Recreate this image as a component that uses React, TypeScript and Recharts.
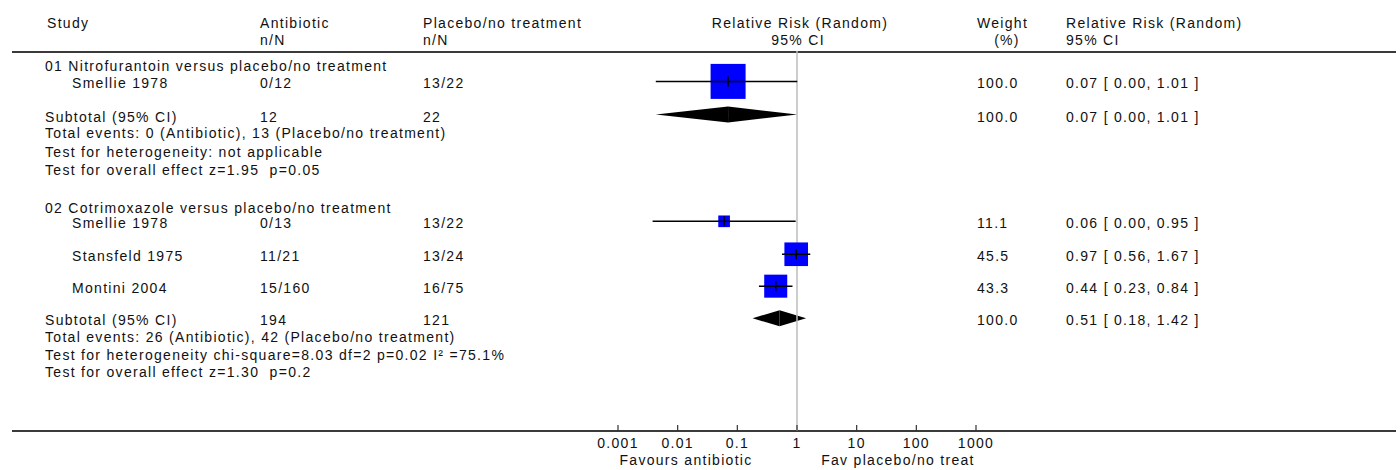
import React from 'react';
import {
  ScatterChart,
  Scatter,
  XAxis,
  YAxis,
  ReferenceLine,
  ReferenceArea,
  Customized,
} from 'recharts';

const FONT = '"Liberation Sans", Arial, sans-serif';
const INK = '#111';

// x axis (relative risk, log scale)
const xTicks = [0.001, 0.01, 0.1, 1, 10, 100, 1000];
const favourLabels = ['Favours antibiotic', 'Fav placebo/no treat'];

// comparisons
const groupTitles = [
  '01 Nitrofurantoin versus placebo/no treatment',
  '02 Cotrimoxazole versus placebo/no treatment',
];
const groupTitleLines = [0.74, 9.15];

// trials
const studyNames = ['Smellie 1978', 'Smellie 1978', 'Stansfeld 1975', 'Montini 2004'];
const studyAntibiotic = ['0/12', '0/13', '11/21', '15/160'];
const studyPlacebo = ['13/22', '13/22', '13/24', '16/75'];
const studyWeights = [100.0, 11.1, 45.5, 43.3];
const studyRR = [0.07, 0.06, 0.97, 0.44];
const studyLow = [0.0043, 0.0038, 0.56, 0.23];
const studyHigh = [1.01, 0.95, 1.67, 0.84];
const studyLines = [1.79, 10.03, 11.97, 13.85];

// subtotals
const subtotalAntibioticN = [12, 194];
const subtotalPlaceboN = [22, 121];
const subtotalRR = [0.07, 0.51];
const subtotalLow = [0.0043, 0.18];
const subtotalHigh = [1.01, 1.42];
const subtotalLines = [3.74, 15.74];

const eventsAntibiotic = [0, 26];
const eventsPlacebo = [13, 42];
const heterogeneity = [
  'Test for heterogeneity: not applicable',
  'Test for heterogeneity chi-square=8.03 df=2 p=0.02 I\u00b2 =75.1%',
];
const overallEffect = ['Test for overall effect z=1.95  p=0.05', 'Test for overall effect z=1.30  p=0.2'];
const footLines = [
  [4.74, 5.82, 6.91],
  [16.71, 17.76, 18.79],
];

// column x positions
const COL = { left: 45, study: 72, anti: 260, plac: 423, weight: 977, rr: 1066 };

const ciText = (rr: number, lo: number, hi: number) =>
  `${rr.toFixed(2)} [ ${lo.toFixed(2)}, ${hi.toFixed(2)} ]`;

type Cell = { x: number; text: string };
type TextRow = { line: number; cells: Cell[] };

const textRows: TextRow[] = [];
groupTitles.forEach((t, g) => {
  textRows.push({ line: groupTitleLines[g], cells: [{ x: COL.left, text: t }] });
  textRows.push({
    line: subtotalLines[g],
    cells: [
      { x: COL.left, text: 'Subtotal (95% CI)' },
      { x: COL.anti, text: String(subtotalAntibioticN[g]) },
      { x: COL.plac, text: String(subtotalPlaceboN[g]) },
      { x: COL.weight, text: '100.0' },
      { x: COL.rr, text: ciText(subtotalRR[g], subtotalLow[g], subtotalHigh[g]) },
    ],
  });
  const foot = [
    `Total events: ${eventsAntibiotic[g]} (Antibiotic), ${eventsPlacebo[g]} (Placebo/no treatment)`,
    heterogeneity[g],
    overallEffect[g],
  ];
  foot.forEach((f, k) => textRows.push({ line: footLines[g][k], cells: [{ x: COL.left, text: f }] }));
});
studyNames.forEach((name, i) => {
  textRows.push({
    line: studyLines[i],
    cells: [
      { x: COL.study, text: name },
      { x: COL.anti, text: studyAntibiotic[i] },
      { x: COL.plac, text: studyPlacebo[i] },
      { x: COL.weight, text: studyWeights[i].toFixed(1) },
      { x: COL.rr, text: ciText(studyRR[i], studyLow[i], studyHigh[i]) },
    ],
  });
});

const studyPoints = studyNames.map((name, i) => ({
  name,
  rr: studyRR[i],
  line: studyLines[i],
  weight: studyWeights[i],
}));

const textStyle: React.CSSProperties = { whiteSpace: 'pre', letterSpacing: 1.3 };

const Txt = ({ x, y, anchor = 'start', children }: any) => (
  <text x={x} y={y} textAnchor={anchor} fontFamily={FONT} fontSize={14} fill={INK} style={textStyle}>
    {children}
  </text>
);

const RowTick = (props: any) => {
  const { y, payload } = props;
  const row = textRows.find((r) => r.line === payload.value);
  if (!row) return null;
  return (
    <g>
      {row.cells.map((c, k) => (
        <Txt key={k} x={c.x} y={y + 7}>
          {c.text}
        </Txt>
      ))}
    </g>
  );
};

const RiskTick = (props: any) => {
  const { x, y, payload } = props;
  return (
    <g>
      <line x1={x} x2={x} y1={y - 6} y2={y} stroke="#333" strokeWidth={1.2} />
      <Txt x={x} y={y + 17} anchor="middle">
        {String(payload.value)}
      </Txt>
    </g>
  );
};

const WeightSquare = (props: any) => {
  const { cx, cy, payload } = props;
  const side = 35 * Math.sqrt(payload.weight / 100);
  return (
    <g>
      <rect x={cx - side / 2} y={cy - side / 2} width={side} height={side} fill="#0000ff" />
      <line x1={cx - side / 2} x2={cx + side / 2} y1={cy} y2={cy} stroke="#000" strokeWidth={1.5} />
      <line x1={cx} x2={cx} y1={cy - 5} y2={cy + 5} stroke="#000" strokeWidth={1.5} />
    </g>
  );
};

const leftHalf = (p: any) => (
  <polygon
    points={`${p.x},${p.y + p.height / 2} ${p.x + p.width},${p.y} ${p.x + p.width},${p.y + p.height}`}
    fill="#000"
  />
);
const rightHalf = (p: any) => (
  <polygon points={`${p.x},${p.y} ${p.x + p.width},${p.y + p.height / 2} ${p.x},${p.y + p.height}`} fill="#000" />
);

const Frame = () => (
  <g>
    <Txt x={47} y={28}>Study</Txt>
    <Txt x={COL.anti} y={28}>Antibiotic</Txt>
    <Txt x={COL.anti} y={45}>n/N</Txt>
    <Txt x={COL.plac} y={28}>Placebo/no treatment</Txt>
    <Txt x={COL.plac} y={45}>n/N</Txt>
    <Txt x={800} y={28} anchor="middle">Relative Risk (Random)</Txt>
    <Txt x={798} y={45} anchor="middle">95% CI</Txt>
    <Txt x={COL.weight} y={28}>Weight</Txt>
    <Txt x={1007} y={45} anchor="middle">(%)</Txt>
    <Txt x={COL.rr} y={28}>Relative Risk (Random)</Txt>
    <Txt x={COL.rr} y={45}>95% CI</Txt>
    <line x1={12} x2={1396} y1={52} y2={52} stroke="#3a3a3a" strokeWidth={2} />
    <line x1={12} x2={1396} y1={431} y2={431} stroke="#3a3a3a" strokeWidth={2} />
    <Txt x={686} y={465} anchor="middle">{favourLabels[0]}</Txt>
    <Txt x={898} y={465} anchor="middle">{favourLabels[1]}</Txt>
  </g>
);

export default function App() {
  return (
    <div style={{ position: 'absolute', left: 0, top: 0, width: 1400, height: 470, background: '#fff' }}>
      <ScatterChart width={1400} height={470} margin={{ top: 51, right: 424, bottom: 0, left: 0 }}>
        <XAxis
          type="number"
          dataKey="rr"
          scale="log"
          domain={[0.001, 1000]}
          ticks={xTicks}
          interval={0}
          allowDataOverflow
          axisLine={false}
          tickLine={false}
          tickSize={0}
          tickMargin={0}
          height={39}
          tick={<RiskTick />}
        />
        <YAxis
          type="number"
          dataKey="line"
          domain={[0, 22.38]}
          reversed
          ticks={textRows.map((r) => r.line)}
          interval={0}
          allowDataOverflow
          axisLine={false}
          tickLine={false}
          width={618}
          tick={<RowTick />}
        />
        <ReferenceLine x={1} stroke="#bdbdbd" strokeWidth={1.5} />
        {studyLines.map((ln, i) => (
          <ReferenceLine
            key={`ci-${i}`}
            segment={[
              { x: studyLow[i], y: ln },
              { x: studyHigh[i], y: ln },
            ]}
            stroke="#000"
            strokeWidth={1.5}
          />
        ))}
        {subtotalLines.map((ln, g) => (
          <ReferenceArea
            key={`dl-${g}`}
            x1={subtotalLow[g]}
            x2={subtotalRR[g]}
            y1={ln - 0.47}
            y2={ln + 0.47}
            shape={leftHalf}
          />
        ))}
        {subtotalLines.map((ln, g) => (
          <ReferenceArea
            key={`dr-${g}`}
            x1={subtotalRR[g]}
            x2={subtotalHigh[g]}
            y1={ln - 0.47}
            y2={ln + 0.47}
            shape={rightHalf}
          />
        ))}
        <Scatter data={studyPoints} shape={<WeightSquare />} isAnimationActive={false} />
        <Customized component={<Frame />} />
      </ScatterChart>
    </div>
  );
}
